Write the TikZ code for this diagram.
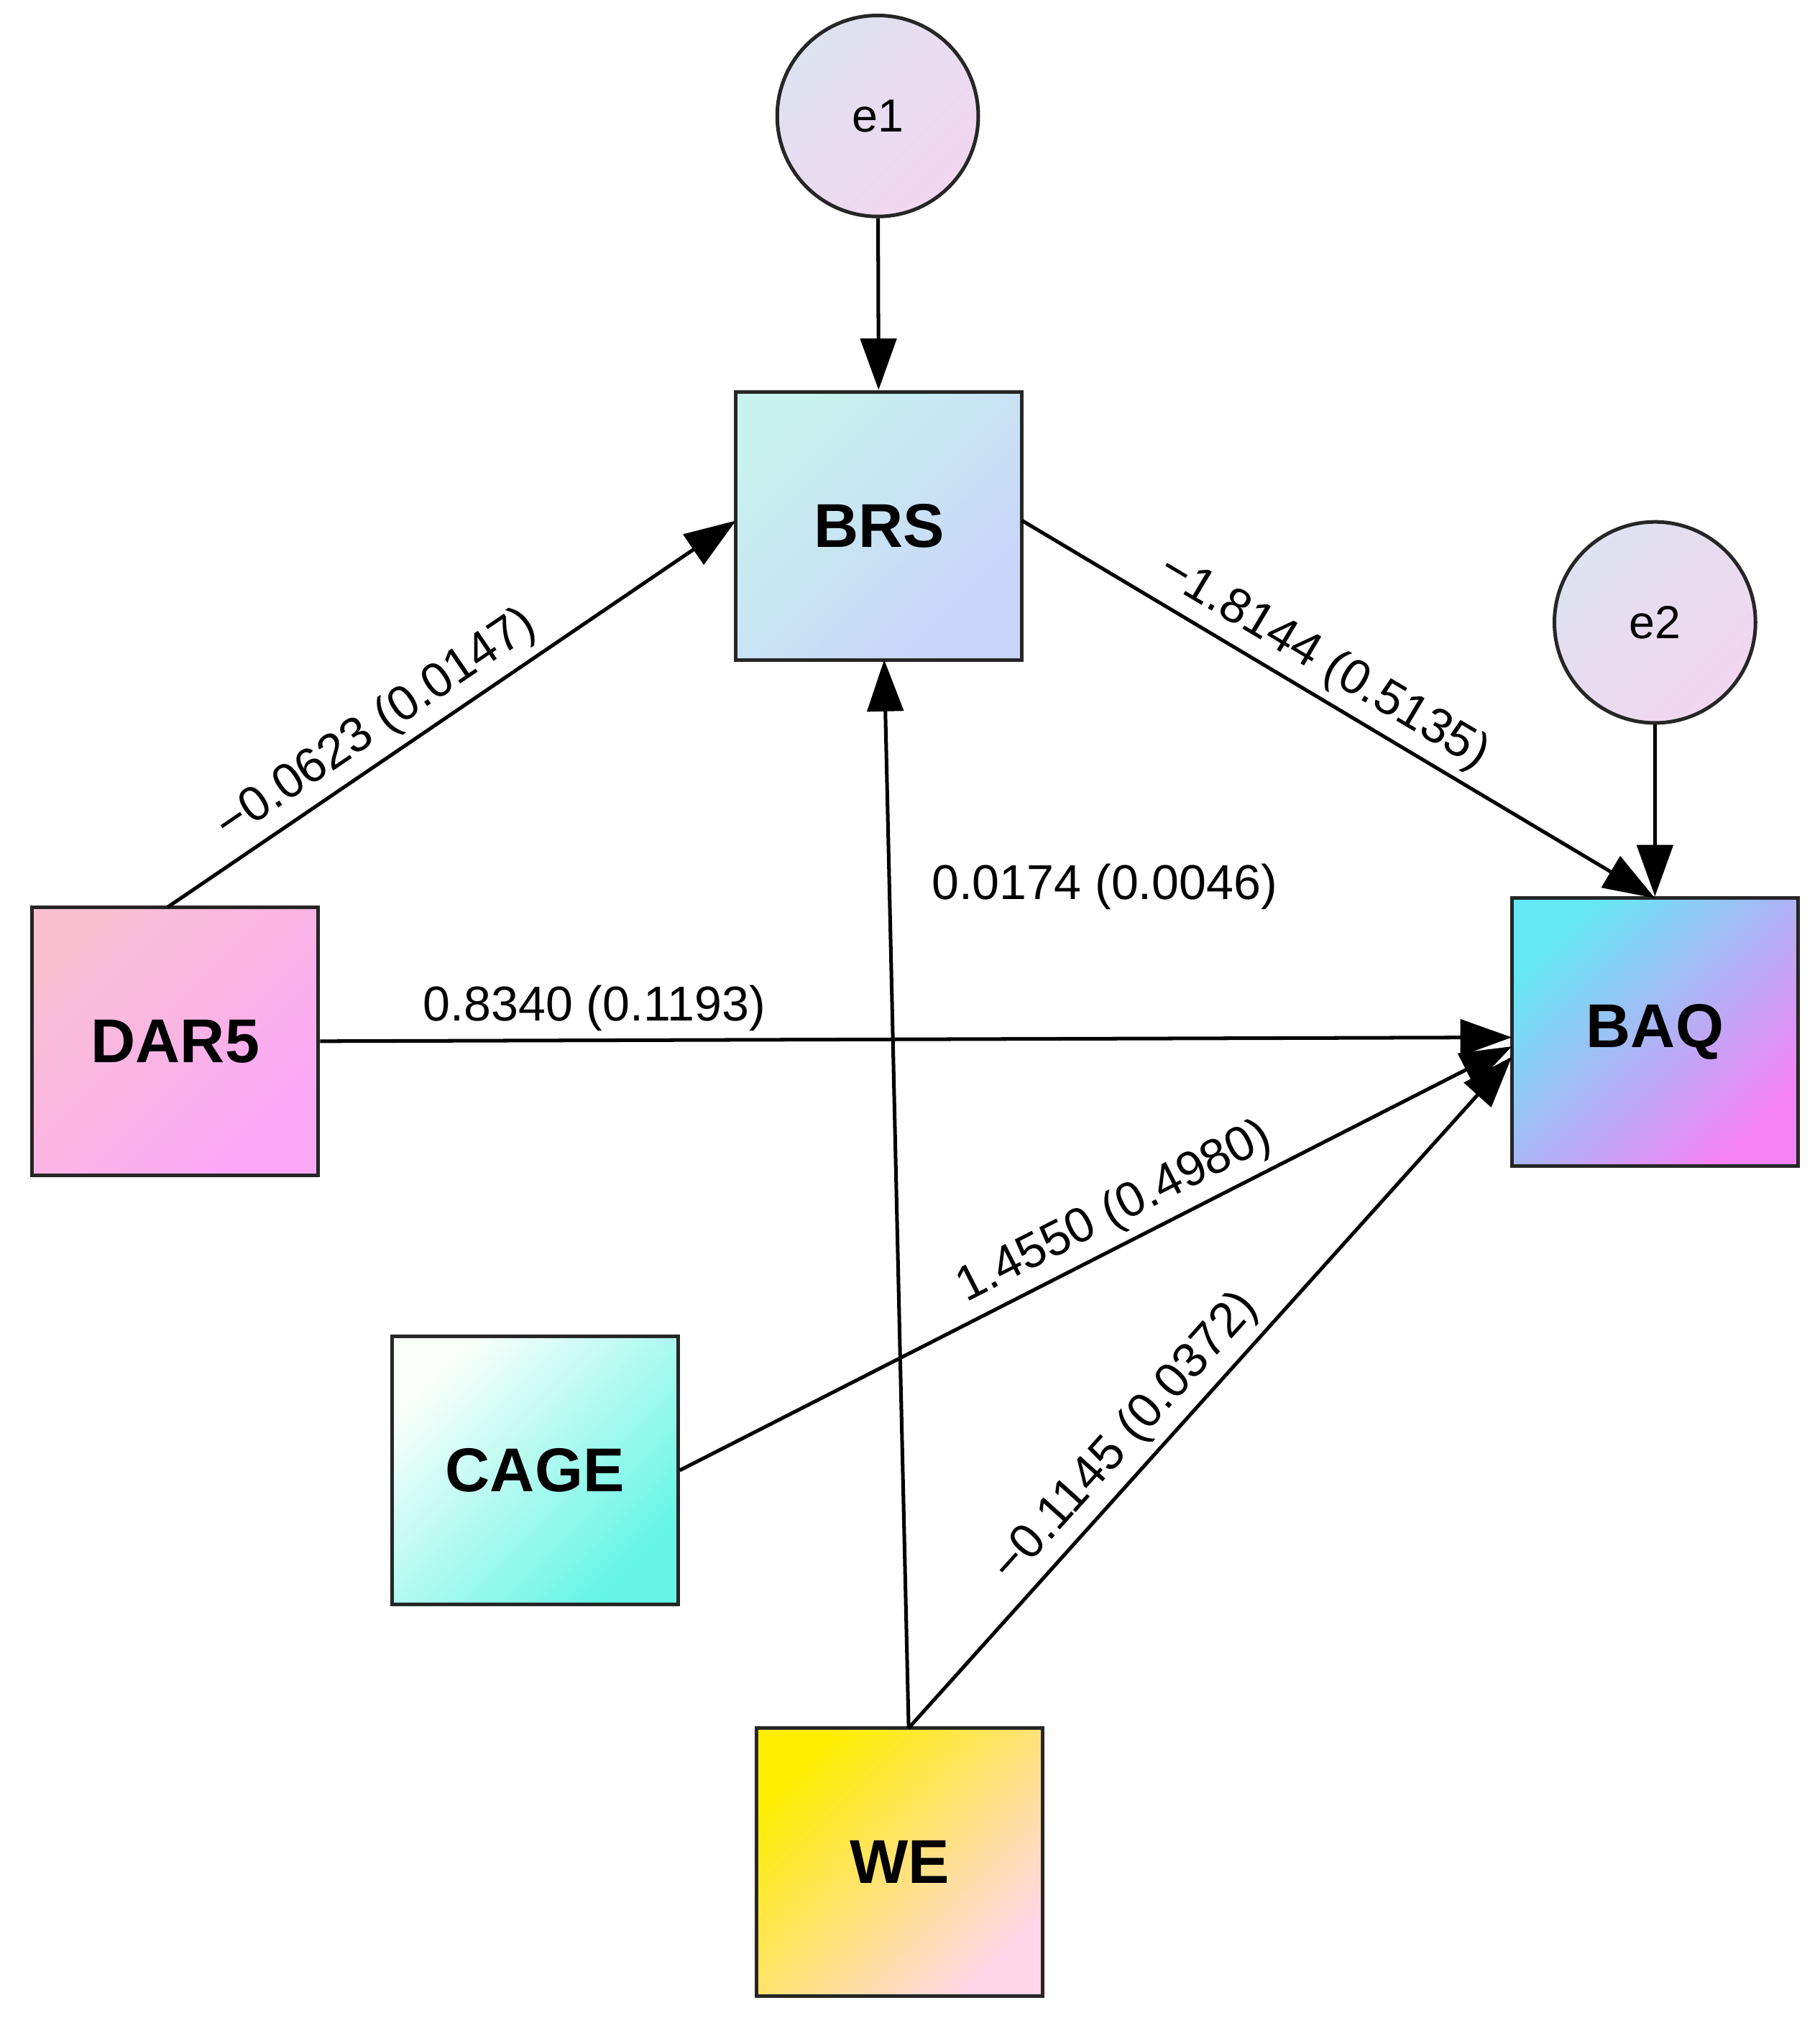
\documentclass[tikz,border=0pt]{standalone}
\usepackage{fontspec}
\setmainfont{Liberation Sans}
\usetikzlibrary{arrows.meta}
\begin{document}
\begin{tikzpicture}[x=0.5pt,y=-0.5pt,
  box/.style={draw=black!85,line width=1.4pt,minimum width=111pt,minimum height=104pt,font=\fontsize{24}{28}\selectfont\bfseries},
  diag/.style={shading angle=45},
  err/.style={circle,draw=black!85,line width=1.4pt,minimum size=78pt,font=\fontsize{18}{22}\selectfont,top color=cE1,bottom color=cE2,shading angle=45},
  arr/.style={line width=1.4pt,-{Triangle[length=20pt,width=14pt]}},
  lab/.style={font=\fontsize{19}{22}\selectfont,inner sep=3pt}]
\definecolor{cE1}{RGB}{222,226,240}
\definecolor{cE2}{RGB}{242,214,240}
\useasboundingbox (0,0) rectangle (1412,1566);
\node[err] (e1) at (681,90) {e1};
\node[err] (e2) at (1284,483) {e2};
\node[box,top color={rgb,255:red,200;green,242;blue,238},bottom color={rgb,255:red,200;green,212;blue,250},diag] (BRS) at (682,408) {BRS};
\node[box,top color={rgb,255:red,100;green,232;blue,245},bottom color={rgb,255:red,245;green,130;blue,245},diag] (BAQ) at (1284,801) {BAQ};
\node[box,top color={rgb,255:red,250;green,192;blue,210},bottom color={rgb,255:red,250;green,168;blue,248},diag] (DAR5) at (136,808) {DAR5};
\node[box,top color={rgb,255:red,250;green,255;blue,250},bottom color={rgb,255:red,100;green,245;blue,230},diag] (CAGE) at (415,1141) {CAGE};
\node[box,top color={rgb,255:red,255;green,238;blue,0},bottom color={rgb,255:red,255;green,215;blue,232},diag] (WE) at (698,1445) {WE};
\coordinate (dT) at (130,704);
\coordinate (weT) at (705,1341);
\draw[arr] (e1) -- (BRS);
\draw[arr] (e2) -- (BAQ);
\draw[arr] (dT) -- (571,404) node[lab,pos=0.4,sloped,above] {−0.0623 (0.0147)};
\draw[arr] (793,404) -- (1284,697) node[lab,pos=0.45,sloped,above] {−1.8144 (0.5135)};
\draw[arr] (DAR5.east) -- (1173,805) node[lab,pos=0.23,above] {0.8340 (0.1193)};
\draw[arr] (CAGE.east) -- (1173,812) node[lab,pos=0.54,sloped,above] {1.4550 (0.4980)};
\draw[arr] (weT) -- (686,512);
\node[lab] (l5) at (857,688) {0.0174 (0.0046)};
\draw[arr] (weT) -- (1173,820) node[lab,pos=0.4,sloped,above] {−0.1145 (0.0372)};
\end{tikzpicture}
\end{document}
